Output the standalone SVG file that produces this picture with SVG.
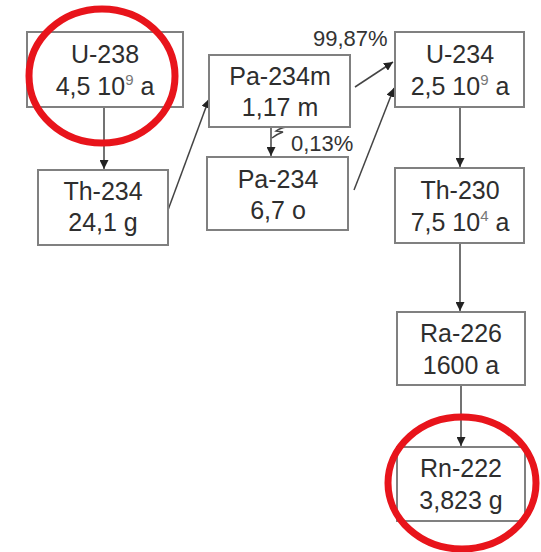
<svg xmlns="http://www.w3.org/2000/svg" width="541" height="552" viewBox="0 0 541 552">
<defs>
<marker id="ah" viewBox="0 0 10 10" refX="10" refY="5" markerWidth="9" markerHeight="9" markerUnits="userSpaceOnUse" orient="auto">
<path d="M0,0 L10,5 L0,10 z" fill="#222"/>
</marker>
</defs>
<style>
.box{fill:#fff;stroke:#808080;stroke-width:2}
.t{font-family:"Liberation Sans",Arial,sans-serif;font-size:25px;fill:#2e2e2e;text-anchor:middle}
.sup{font-size:15px;fill:#777}
.lbl{font-family:"Liberation Sans",Arial,sans-serif;font-size:22px;fill:#333}
.c{stroke:#444;stroke-width:1.5;fill:none}
.ring{fill:none;stroke:#e8141b;stroke-width:7}
</style>
<rect width="541" height="552" fill="#fff"/>
<g id="connectors">
<line class="c" x1="104" y1="107" x2="104" y2="169" marker-end="url(#ah)"/>
<line class="c" x1="168" y1="210" x2="209" y2="99" marker-end="url(#ah)"/>
<line class="c" x1="355" y1="87" x2="393" y2="62" marker-end="url(#ah)"/>
<line class="c" x1="354" y1="190" x2="394" y2="88" marker-end="url(#ah)"/>
<line class="c" x1="271" y1="127" x2="271" y2="156" marker-end="url(#ah)"/>
<path class="c" d="M287 127 Q280 128 276 131 L283 132 Q277 134 272 138"/>
<line class="c" x1="460" y1="107" x2="460" y2="167" marker-end="url(#ah)"/>
<line class="c" x1="460" y1="243" x2="460" y2="311" marker-end="url(#ah)"/>
<line class="c" x1="461" y1="385" x2="461" y2="446" marker-end="url(#ah)"/>
<text class="lbl" x="313" y="46">99,87%</text>
<text class="lbl" x="291" y="151">0,13%</text>
</g>
<g id="n-u238">
<rect class="box" x="27" y="32" width="156" height="75"/>
<text class="t" x="105" y="63">U-238</text>
<text class="t" x="105" y="95">4,5 10<tspan class="sup" dy="-10">9</tspan><tspan dy="10"> a</tspan></text>
</g>
<g id="n-th234">
<rect class="box" x="38" y="170" width="130" height="75"/>
<text class="t" x="103" y="200">Th-234</text>
<text class="t" x="103" y="231">24,1 g</text>
</g>
<g id="n-pa234m">
<rect class="box" x="209" y="55" width="141" height="72"/>
<text class="t" x="280" y="85">Pa-234m</text>
<text class="t" x="280" y="116">1,17 m</text>
</g>
<g id="n-pa234">
<rect class="box" x="207" y="157" width="141" height="73"/>
<text class="t" x="278" y="188">Pa-234</text>
<text class="t" x="278" y="219">6,7 o</text>
</g>
<g id="n-u234">
<rect class="box" x="395" y="32" width="129" height="75"/>
<text class="t" x="460" y="63">U-234</text>
<text class="t" x="460" y="95">2,5 10<tspan class="sup" dy="-10">9</tspan><tspan dy="10"> a</tspan></text>
</g>
<g id="n-th230">
<rect class="box" x="395" y="168" width="129" height="75"/>
<text class="t" x="460" y="199">Th-230</text>
<text class="t" x="460" y="231">7,5 10<tspan class="sup" dy="-10">4</tspan><tspan dy="10"> a</tspan></text>
</g>
<g id="n-ra226">
<rect class="box" x="397" y="312" width="128" height="73"/>
<text class="t" x="461" y="342">Ra-226</text>
<text class="t" x="461" y="374">1600 a</text>
</g>
<g id="n-rn222">
<rect class="box" x="397" y="447" width="128" height="74"/>
<text class="t" x="461" y="477">Rn-222</text>
<text class="t" x="461" y="509">3,823 g</text>
</g>
<g id="highlights">
<ellipse class="ring" cx="102" cy="76" rx="73" ry="67"/>
<ellipse class="ring" cx="462" cy="483" rx="74" ry="66"/>
</g>
</svg>
